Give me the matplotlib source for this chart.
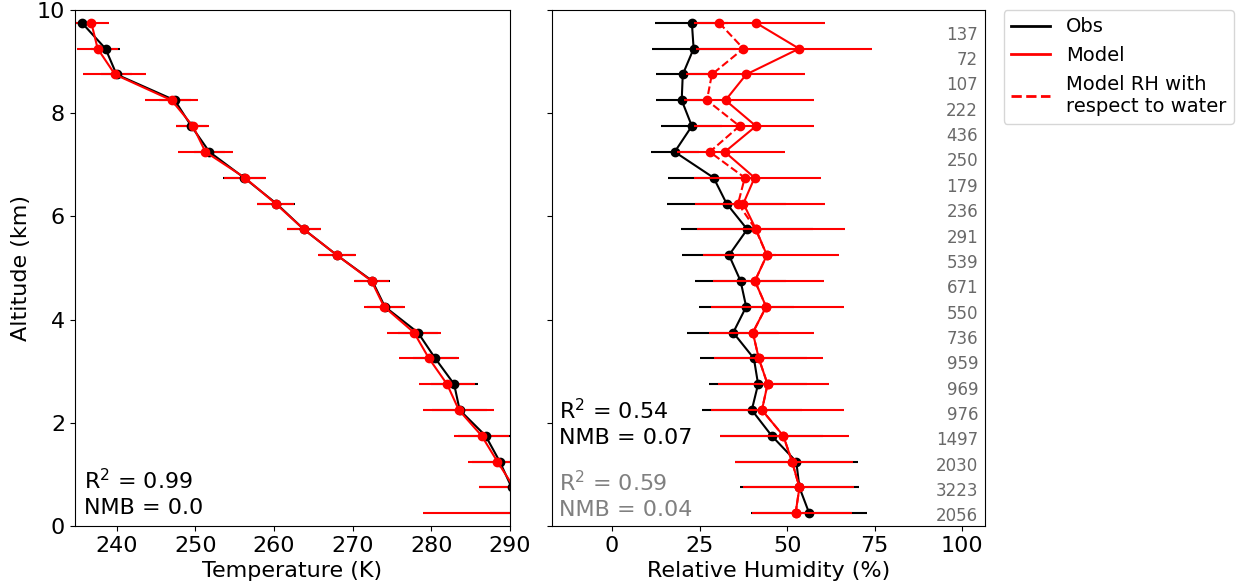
import matplotlib
matplotlib.use("Agg")
import matplotlib.pyplot as plt
from matplotlib.lines import Line2D

alt = [9.75, 9.25, 8.75, 8.25, 7.75, 7.25, 6.75, 6.25, 5.75, 5.25,
       4.75, 4.25, 3.75, 3.25, 2.75, 2.25, 1.75, 1.25, 0.75, 0.25]
counts = [137, 72, 107, 222, 436, 250, 179, 236, 291, 539,
          671, 550, 736, 959, 969, 976, 1497, 2030, 3223, 2056]

t_obs = [235.6, 238.6, 240.0, 247.4, 249.5, 251.8, 256.2, 260.3, 263.8, 268.0,
         272.5, 274.1, 278.3, 280.5, 282.9, 283.6, 286.9, 288.7, 290.2, 292.0]
t_obs_sd = [1.8, 1.8, 2.0, 2.0, 2.0, 2.0, 2.7, 2.4, 2.2, 2.3,
            2.2, 2.3, 2.5, 2.8, 3.0, 3.5, 3.5, 3.5, 4.2, 4.5]
t_mod = [236.8, 237.6, 239.8, 247.0, 249.7, 251.3, 256.3, 260.2, 263.8, 268.0,
         272.4, 274.0, 277.8, 279.7, 282.0, 283.5, 286.4, 288.4, 290.5, 293.0]
t_mod_sd = [2.2, 2.6, 4.0, 3.4, 2.1, 3.5, 2.7, 2.4, 2.2, 2.4,
            2.2, 2.6, 3.4, 3.8, 3.6, 4.5, 3.5, 3.7, 4.5, 14.0]

rh_obs = [22.8, 23.3, 20.2, 19.9, 22.8, 17.9, 29.0, 32.7, 38.6, 33.4,
          36.7, 38.3, 34.6, 40.5, 41.7, 39.9, 45.6, 52.6, 53.5, 56.3]
rh_obs_sd = [10.4, 12.0, 7.5, 7.4, 8.7, 6.9, 13.0, 16.9, 18.8, 13.5,
             13.0, 13.6, 13.1, 15.3, 13.9, 14.3, 14.7, 17.5, 17.0, 16.6]
rh_mod = [41.1, 53.4, 38.3, 32.4, 41.1, 32.2, 40.7, 37.5, 41.1, 44.2,
          40.8, 44.0, 40.2, 41.9, 44.4, 42.8, 48.9, 51.4, 53.5, 52.4]
# model spread is asymmetric: lower and upper bounds
rh_mod_lo = [23.5, 24.0, 21.0, 20.5, 23.5, 18.5, 23.5, 23.7, 24.4, 26.1,
             28.8, 28.2, 27.6, 29.0, 30.4, 28.3, 30.9, 35.1, 37.3, 40.0]
rh_mod_hi = [60.9, 74.1, 55.1, 57.6, 57.6, 49.5, 59.7, 60.9, 66.6, 64.7,
             60.6, 66.3, 57.6, 60.2, 62.0, 66.2, 67.7, 68.8, 69.2, 68.6]
rh_wat = [30.6, 37.5, 28.5, 27.1, 36.4, 27.9, 37.9, 36.0, 41.0, 44.2,
          40.8, 44.0, 40.2, 41.9, 44.4, 42.8, 48.9, 51.4, 53.5, 52.4]

plt.rcParams["font.size"] = 16
fig = plt.figure(figsize=(12.47, 5.84), dpi=100)
ax1 = fig.add_axes([0.060, 0.099, 0.349, 0.884])
ax2 = fig.add_axes([0.443, 0.099, 0.347, 0.884])

kw = dict(marker="o", ms=6, lw=1.5, elinewidth=1.5, capsize=0)
ax1.errorbar(t_obs, alt, xerr=t_obs_sd, color="black", **kw)
ax1.errorbar(t_mod, alt, xerr=t_mod_sd, color="red", **kw)
ax1.set_xlim(234.7, 290)
ax1.set_ylim(0, 10)
ax1.set_xlabel("Temperature (K)")
ax1.set_ylabel("Altitude (km)")
ax1.text(0.02, 0.015, "R$^2$ = 0.99\nNMB = 0.0", transform=ax1.transAxes,
         ha="left", va="bottom", linespacing=1.3)

mod_err = [[m - lo for m, lo in zip(rh_mod, rh_mod_lo)],
           [hi - m for m, hi in zip(rh_mod, rh_mod_hi)]]
ax2.errorbar(rh_obs, alt, xerr=rh_obs_sd, color="black", zorder=2, **kw)
ax2.errorbar(rh_mod, alt, xerr=mod_err, color="red", zorder=3, **kw)
ax2.plot(rh_wat, alt, "o--", color="red", ms=6, lw=1.5, zorder=3)
ax2.set_xlim(-17, 106.5)
ax2.set_ylim(0, 10)
ax2.set_xticks([0, 25, 50, 75, 100])
ax2.set_yticks([0, 2, 4, 6, 8, 10])
ax2.set_yticklabels([])
ax2.set_xlabel("Relative Humidity (%)")
for a, n in zip(alt, counts):
    ax2.text(104.5, a * 0.982 - 0.055, str(n), ha="right", va="center",
             fontsize=12, color="dimgray")
ax2.text(0.015, 0.152, "R$^2$ = 0.54\nNMB = 0.07", transform=ax2.transAxes,
         ha="left", va="bottom", linespacing=1.3)
ax2.text(0.015, 0.012, "R$^2$ = 0.59\nNMB = 0.04", transform=ax2.transAxes,
         ha="left", va="bottom", linespacing=1.3, color="gray")

handles = [Line2D([], [], color="black", lw=2),
           Line2D([], [], color="red", lw=2),
           Line2D([], [], color="red", lw=2, ls="--")]
fig.legend(handles, ["Obs", "Model", "Model RH with\nrespect to water"],
           loc="upper left", bbox_to_anchor=(0.797, 1.0), fontsize=14)

fig.savefig("out.png", dpi=100)
